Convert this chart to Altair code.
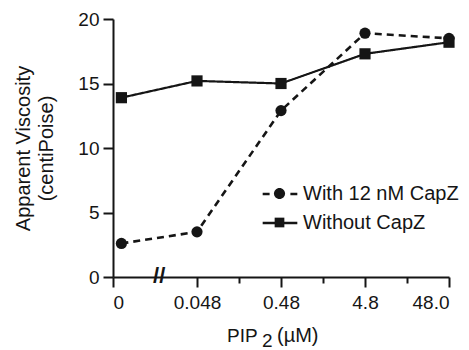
import altair as alt
import pandas as pd

# PIP2 concentrations (uM), shown at evenly spaced positions on a broken axis
concentrations = ["0", "0.048", "0.48", "4.8", "48.0"]
with_capz = [2.6, 3.5, 12.9, 18.9, 18.5]
without_capz = [13.9, 15.2, 15.0, 17.3, 18.2]
series_names = ["With 12 nM CapZ", "Without CapZ"]

# the zero point sits just right of the y axis
positions = [0.1, 1, 2, 3, 4]

rows = []
for name, vals in zip(series_names, [with_capz, without_capz]):
    for c, p, v in zip(concentrations, positions, vals):
        rows.append({"series": name, "conc": c, "pos": p, "viscosity": v})
df = pd.DataFrame(rows)

FONT = "Liberation Sans"
INK = "#151515"

x_enc = alt.X(
    "pos:Q",
    scale=alt.Scale(domain=[0, 4], nice=False, zero=False),
    axis=alt.Axis(
        values=[0, 1, 1.5, 2, 2.5, 3, 3.5, 4],
        labelExpr="datum.value == 0 ? '0' : datum.value == 1 ? '0.048' : datum.value == 2 ? '0.48' : datum.value == 3 ? '4.8' : datum.value == 4 ? '48.0' : ''",
        tickSize={"condition": {"test": "datum.value % 1 != 0", "value": 6}, "value": 10},
        title=None,
        labelFontSize=19,
        labelPadding=6,
        grid=False,
    ),
)
y_enc = alt.Y(
    "viscosity:Q",
    scale=alt.Scale(domain=[0, 20], nice=False),
    axis=alt.Axis(
        values=[0, 5, 10, 15, 20],
        title=["Apparent Viscosity", "(centiPoise)"],
        titleFontSize=20,
        titleFontWeight="normal",
        titlePadding=21,
        titleLineHeight=23,
        labelFontSize=19,
        labelPadding=4,
        tickSize=10,
        grid=False,
    ),
)

base = alt.Chart(df)

lines = base.mark_line(color=INK).encode(
    x=x_enc,
    y=y_enc,
    detail="series:N",
    strokeDash=alt.StrokeDash(
        "series:N",
        scale=alt.Scale(domain=series_names, range=[[7, 5], [1, 0]]),
        legend=None,
    ),
    strokeWidth=alt.StrokeWidth(
        "series:N",
        scale=alt.Scale(domain=series_names, range=[2.6, 2.2]),
        legend=None,
    ),
)

points = base.mark_point(filled=True, opacity=1, color=INK, size=125).encode(
    x="pos:Q",
    y="viscosity:Q",
    shape=alt.Shape(
        "series:N",
        scale=alt.Scale(domain=series_names, range=["circle", "square"]),
        legend=None,
    ),
)

# Legend glyphs are built from two overlaid legends: one draws the filled
# markers with the labels, the other the (dashed or solid) line segments.
marker_paths = [
    "M-0.32,0A0.32,0.32 0 1,0 0.32,0A0.32,0.32 0 1,0 -0.32,0Z",
    "M-0.28,-0.28H0.28V0.28H-0.28Z",
]
segment_paths = [
    "M-1,0H-0.6 M0.6,0H1",
    "M-1,0H1",
]

legend_common = dict(
    title=None,
    orient="none",
    legendX=148,
    legendY=156,
    labelFont=FONT,
    labelFontSize=20,
    labelColor=INK,
    labelOffset=5,
    labelLimit=300,
    symbolSize=1200,
    symbolOpacity=1,
    rowPadding=-14,
)

legend_markers = base.mark_point(filled=True, opacity=0, color=INK).encode(
    x="pos:Q",
    y="viscosity:Q",
    shape=alt.Shape(
        "series:N",
        scale=alt.Scale(domain=series_names, range=marker_paths),
        legend=alt.Legend(symbolFillColor=INK, **legend_common),
    ),
)

legend_segments = base.mark_point(filled=False, opacity=0, color=INK, strokeWidth=2.4).encode(
    x="pos:Q",
    y="viscosity:Q",
    shape=alt.Shape(
        "series:N",
        scale=alt.Scale(domain=series_names, range=segment_paths),
        legend=alt.Legend(
            symbolStrokeColor=INK, symbolStrokeWidth=2.4, labelOpacity=0, **legend_common
        ),
    ),
)

# axis break marker between 0 and 0.048
axis_break = alt.Chart(pd.DataFrame({"pos": [0.55], "viscosity": [0], "t": ["//"]})).mark_text(
    font=FONT, fontSize=22, fontWeight="bold", color=INK, dy=-1
).encode(x="pos:Q", y="viscosity:Q", text="t:N")

# x axis title with a lowered "2"
title_parts = pd.DataFrame({"t": ["PIP", "2", "(µM)"], "k": [0, 1, 2]})
x_title = alt.layer(
    alt.Chart(title_parts).transform_filter("datum.k == 0").mark_text(
        font=FONT, fontSize=19, color=INK, align="left", baseline="alphabetic"
    ).encode(text="t:N", x=alt.value(114), y=alt.value(323)),
    alt.Chart(title_parts).transform_filter("datum.k == 1").mark_text(
        font=FONT, fontSize=19, color=INK, align="left", baseline="alphabetic"
    ).encode(text="t:N", x=alt.value(149), y=alt.value(328)),
    alt.Chart(title_parts).transform_filter("datum.k == 2").mark_text(
        font=FONT, fontSize=20, color=INK, align="left", baseline="alphabetic"
    ).encode(text="t:N", x=alt.value(164), y=alt.value(323)),
)

chart = (
    alt.layer(lines, points, legend_segments, legend_markers, axis_break, x_title)
    .resolve_scale(shape="independent")
    .properties(
        width=336,
        height=258,
        autosize=alt.AutoSizeParams(type="none"),
        padding={"left": 113, "top": 19, "right": 20, "bottom": 73},
        background="white",
    )
    .configure_view(stroke=None)
    .configure_axis(
        domainColor=INK,
        domainWidth=2,
        tickColor=INK,
        tickWidth=2,
        labelColor=INK,
        titleColor=INK,
        labelFont=FONT,
        titleFont=FONT,
    )
)

chart.save("out.html", embed_options={"renderer": "svg", "actions": False})
